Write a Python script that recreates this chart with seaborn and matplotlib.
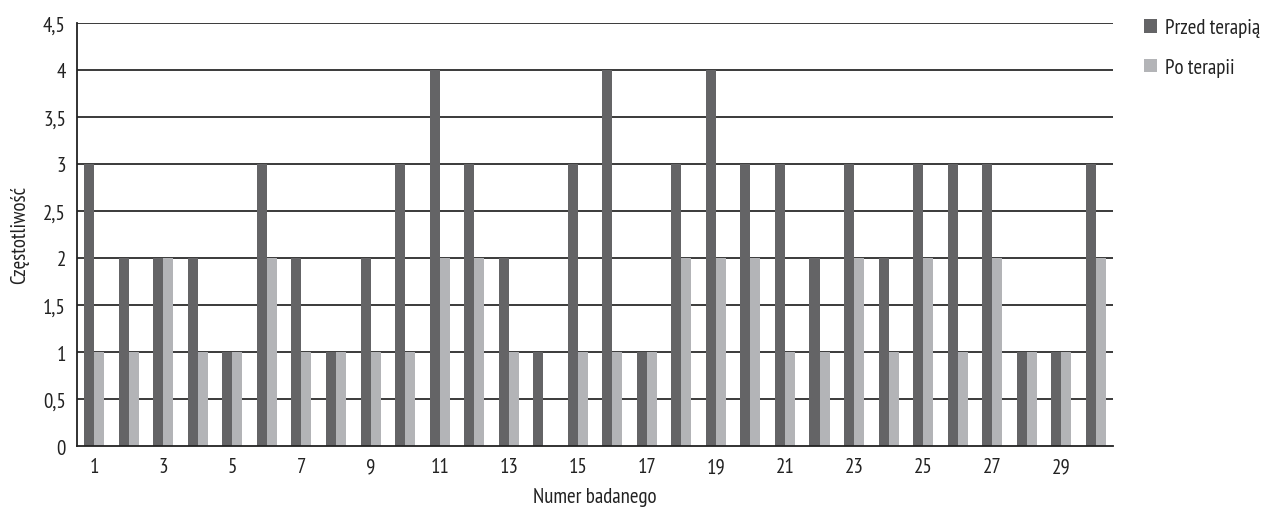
import matplotlib
matplotlib.use("Agg")
import matplotlib.pyplot as plt
from matplotlib.ticker import FixedLocator, FuncFormatter
from matplotlib import font_manager
import seaborn as sns
import pandas as pd

subjects = list(range(1, 31))
przed = [3, 2, 2, 2, 1, 3, 2, 1, 2, 3, 4, 3, 2, 1, 3, 4, 1, 3, 4, 3,
         3, 2, 3, 2, 3, 3, 3, 1, 1, 3]
po = [1, 1, 2, 1, 1, 2, 1, 1, 1, 1, 2, 2, 1, 0, 1, 1, 1, 2, 2, 2,
      1, 1, 2, 1, 2, 1, 2, 1, 1, 2]
series_names = ["Przed terapią", "Po terapii"]
y_ticks = [0, 0.5, 1, 1.5, 2, 2.5, 3, 3.5, 4, 4.5]

df = pd.DataFrame({
    "Numer badanego": subjects * 2,
    "Częstotliwość": przed + po,
    "Seria": [series_names[0]] * len(subjects) + [series_names[1]] * len(subjects),
})

sns.set_style("white")

# pick a narrow humanist sans face
installed = {f.name for f in font_manager.fontManager.ttflist}
narrow = [n for n in ["PT Sans Narrow", "Fira Sans Condensed", "Roboto Condensed"]
          if n in installed]
plt.rcParams["font.family"] = (narrow[:1] or []) + ["DejaVu Sans"]

FS = 15
INK = "#222222"

fig = plt.figure(figsize=(12.66, 5.10), dpi=100)
ax = fig.add_axes([0.0608, 0.1235, 0.8184, 0.8295])

palette = {series_names[0]: "#646466", series_names[1]: "#b3b4b7"}
sns.barplot(data=df, x="Numer badanego", y="Częstotliwość", hue="Seria",
            order=subjects, hue_order=series_names, palette=palette,
            width=0.58, saturation=1, linewidth=0, errorbar=None, ax=ax)

ax.set_xlim(-0.5, len(subjects) - 0.5)
ax.set_ylim(0, 4.5)

# horizontal gridlines
ax.set_yticks(y_ticks)
ax.yaxis.set_major_formatter(FuncFormatter(lambda v, p: f"{v:g}".replace(".", ",")))
for v in y_ticks[1:]:
    ax.axhline(v, color="#2b2b2b", lw=1.3, zorder=0)
ax.set_axisbelow(True)

# category labels on odd subjects, tick marks between pairs
ax.set_xticks(range(0, len(subjects), 2))
ax.set_xticklabels([str(s) for s in subjects[::2]])
ax.xaxis.set_minor_locator(FixedLocator([-0.5 + 2 * k for k in range(16)]))
ax.tick_params(axis="x", which="major", length=0, pad=8, labelsize=FS, colors=INK)
ax.tick_params(axis="x", which="minor", length=5, width=1.2, color=INK, direction="out")
ax.tick_params(axis="y", which="major", length=5, width=1.2, color=INK,
               direction="out", labelsize=FS, labelcolor=INK, pad=3)

for side in ["top", "right"]:
    ax.spines[side].set_visible(False)
for side in ["left", "bottom"]:
    ax.spines[side].set_color(INK)
    ax.spines[side].set_linewidth(1.3)

ax.set_xlabel("Numer badanego", fontsize=FS, color=INK, labelpad=8)
ax.set_ylabel("Częstotliwość", fontsize=FS, color=INK, labelpad=10)

handles, labels = ax.get_legend_handles_labels()
ax.legend(handles, labels, loc="upper left", bbox_to_anchor=(0.904, 0.962),
          bbox_transform=fig.transFigure, frameon=False, fontsize=FS,
          borderaxespad=0, borderpad=0,
          handlelength=0.6, handleheight=0.6, handletextpad=0.4,
          labelspacing=1.0, labelcolor=INK)

fig.savefig("out.png", dpi=100)
